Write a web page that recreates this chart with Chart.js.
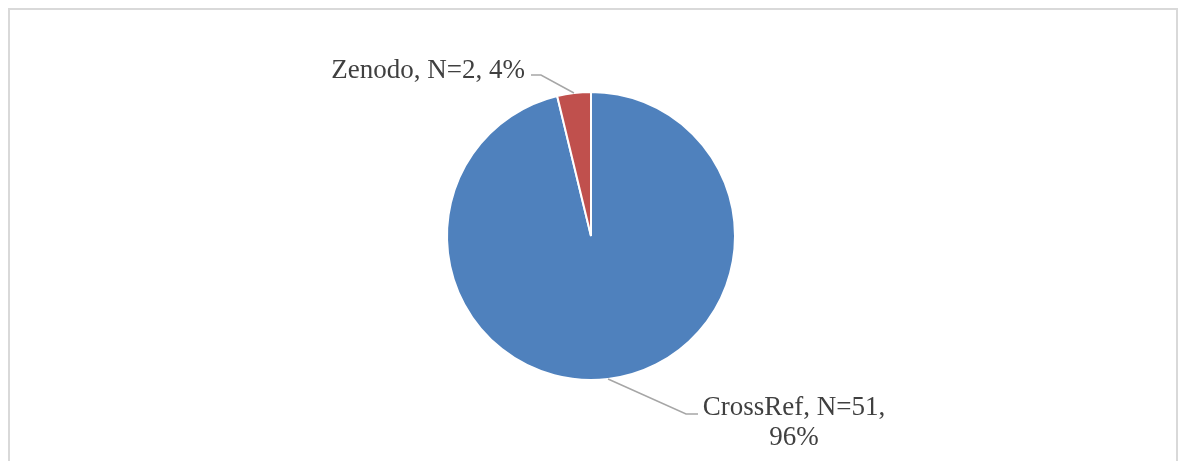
<!DOCTYPE html>
<html>
<head>
<meta charset="utf-8">
<script src="https://cdn.jsdelivr.net/npm/chart.js@4"></script>
<style>
    body { margin: 0; background: #fff; }
    #frame {
        position: absolute; left: 8px; top: 8px; width: 1170px; height: 470px;
        border: 2px solid #d9d9d9; box-sizing: border-box;
    }
    #wrap { position: absolute; left: 0; top: 0; width: 1182px; height: 461px; }
</style>
</head>
<body>
<div id="frame"></div>
<div id="wrap"><canvas id="pieChart"></canvas></div>
<script>
const categories = ["CrossRef", "Zenodo"];
const counts = [51, 2];
const percents = [96, 4];
const sliceColors = ["#4F81BD", "#C0504D"];

// leader line offsets from the slice edge, and where the text sits
const labelLayout = [
    { elbow: [78, 35], end: [90, 35], align: "center", textX: 186, textY: 36, lines: 2 },
    { elbow: [-33, -18], end: [-43, -18], align: "right", textX: -49, textY: -15, lines: 1 }
];

const leaderLabels = {
    id: "leaderLabels",
    afterDraw(chart) {
        const ctx = chart.ctx;
        const meta = chart.getDatasetMeta(0);
        ctx.save();
        meta.data.forEach((arc, i) => {
            const p = arc.getProps(["x", "y", "startAngle", "endAngle", "outerRadius"], true);
            const mid = (p.startAngle + p.endAngle) / 2;
            const sx = p.x + Math.cos(mid) * p.outerRadius;
            const sy = p.y + Math.sin(mid) * p.outerRadius;
            const lay = labelLayout[i];
            ctx.strokeStyle = "#a6a6a6";
            ctx.lineWidth = 1.5;
            ctx.beginPath();
            ctx.moveTo(sx, sy);
            ctx.lineTo(sx + lay.elbow[0], sy + lay.elbow[1]);
            ctx.lineTo(sx + lay.end[0], sy + lay.end[1]);
            ctx.stroke();

            ctx.fillStyle = "#404040";
            ctx.font = "27px 'Liberation Serif', 'Times New Roman', serif";
            ctx.textBaseline = "alphabetic";
            ctx.textAlign = lay.align;
            let text;
            if (lay.lines === 2) {
                text = [categories[i] + ", N=" + counts[i] + ",", percents[i] + "%"];
            } else {
                text = [categories[i] + ", N=" + counts[i] + ", " + percents[i] + "%"];
            }
            text.forEach((t, k) => {
                ctx.fillText(t, sx + lay.textX, sy + lay.textY + k * 30);
            });
        });
        ctx.restore();
    }
};

new Chart(document.getElementById("pieChart"), {
    type: "pie",
    data: {
        labels: categories,
        datasets: [{
            data: counts,
            backgroundColor: sliceColors,
            borderColor: "#ffffff",
            borderWidth: 2
        }]
    },
    options: {
        responsive: true,
        maintainAspectRatio: false,
        animation: false,
        layout: { padding: { left: 445, right: 445, top: 91, bottom: 80 } },
        plugins: {
            legend: { display: false },
            tooltip: { enabled: false }
        }
    },
    plugins: [leaderLabels]
});
</script>
</body>
</html>
